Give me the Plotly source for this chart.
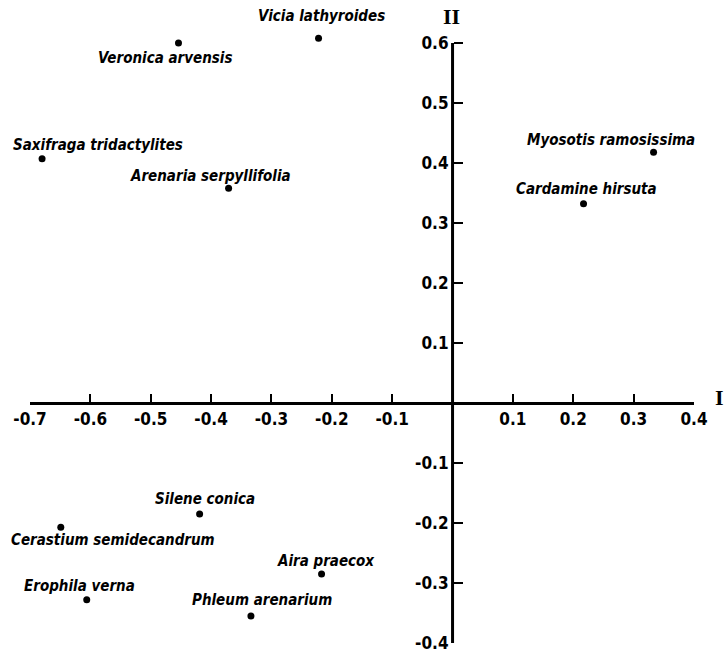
import plotly.graph_objects as go

species = ["Vicia lathyroides", "Veronica arvensis", "Saxifraga tridactylites",
           "Arenaria serpyllifolia", "Myosotis ramosissima", "Cardamine hirsuta",
           "Silene conica", "Cerastium semidecandrum", "Aira praecox",
           "Erophila verna", "Phleum arenarium"]
axis_I = [-0.222, -0.454, -0.680, -0.371, 0.333, 0.217,
          -0.419, -0.649, -0.217, -0.606, -0.334]
axis_II = [0.608, 0.600, 0.407, 0.358, 0.418, 0.332,
           -0.185, -0.207, -0.285, -0.328, -0.355]

x_ticks = [-0.7, -0.6, -0.5, -0.4, -0.3, -0.2, -0.1, 0.1, 0.2, 0.3, 0.4]
x_tick_labels = ["-0.7", "-0.6", "-0.5", "-0.4", "-0.3", "-0.2", "-0.1", "0.1", "0.2", "0.3", "0.4"]
y_ticks = [-0.4, -0.3, -0.2, -0.1, 0.1, 0.2, 0.3, 0.4, 0.5, 0.6]
y_tick_labels = ["-0.4", "-0.3", "-0.2", "-0.1", "0.1", "0.2", "0.3", "0.4", "0.5", "0.6"]

# label offsets in pixels (dx, dy up-positive)
label_offsets = [(3, 22), (-13, -15), (56, 14), (-18, 12), (-43, 12), (3, 15),
                 (5, 15), (52, -13), (4, 13), (-7, 14), (11, 16)]

x_min, x_max = -0.7, 0.4
y_min, y_max = -0.4, 0.6
y_view_top = 0.62  # a little headroom so the top point stays visible

fig = go.Figure()
fig.add_trace(go.Scatter(
    x=axis_I, y=axis_II, mode="markers",
    marker=dict(color="black", size=7),
    hoverinfo="text", text=species, showlegend=False, cliponaxis=False,
))

label_font = dict(family="DejaVu Sans Condensed, DejaVu Sans, sans-serif", size=15, color="black")
for name, xv, yv, (dx, dy) in zip(species, axis_I, axis_II, label_offsets):
    fig.add_annotation(x=xv, y=yv, xref="x", yref="y", text="<b><i>%s</i></b>" % name,
                       showarrow=False, xshift=dx, yshift=dy,
                       xanchor="center", yanchor="middle", font=label_font)

roman_font = dict(family="Liberation Serif, DejaVu Serif, serif", size=22, color="black")
fig.add_annotation(x=1, y=0, xref="paper", yref="y", text="<b>I</b>", showarrow=False,
                   xshift=19, yshift=6, xanchor="left", yanchor="middle", font=roman_font)
fig.add_annotation(x=0, y=y_max, xref="x", yref="y", text="<b>II</b>", showarrow=False,
                   xshift=-1, yshift=27, xanchor="center", yanchor="middle", font=roman_font)

# vertical axis line (ends exactly at the axis limits)
fig.add_shape(type="line", xref="x", yref="y", x0=0, x1=0, y0=y_min, y1=y_max,
              line=dict(color="black", width=3), layer="above")

tick_font = dict(family="DejaVu Sans Condensed, DejaVu Sans, sans-serif", size=17, color="black")

fig.update_layout(
    width=725, height=654,
    margin=dict(l=30, r=31, t=31, b=11),
    paper_bgcolor="white", plot_bgcolor="white",
    template="none",
    xaxis=dict(range=[x_min, x_max], anchor="free",
               position=(0 - y_min) / (y_view_top - y_min),
               showline=True, linecolor="black", linewidth=3,
               showgrid=False, zeroline=False,
               ticks="inside", ticklen=8, tickwidth=1.5, tickcolor="black",
               tickvals=x_ticks, ticktext=["<b>%s</b>" % t for t in x_tick_labels],
               tickfont=tick_font, automargin=False, side="bottom"),
    yaxis=dict(range=[y_min, y_view_top], anchor="free",
               position=(0 - x_min) / (x_max - x_min),
               showline=False,
               showgrid=False, zeroline=False,
               ticks="inside", ticklen=9, tickwidth=1.5, tickcolor="black",
               tickvals=y_ticks, ticktext=["<b>%s</b>" % t for t in y_tick_labels],
               tickfont=tick_font, automargin=False, side="left",
               ticklabelstandoff=4),
)

fig.write_html("out.html", config={"displayModeBar": False},
               post_script="document.body.style.margin='0';document.body.style.overflow='hidden';")
